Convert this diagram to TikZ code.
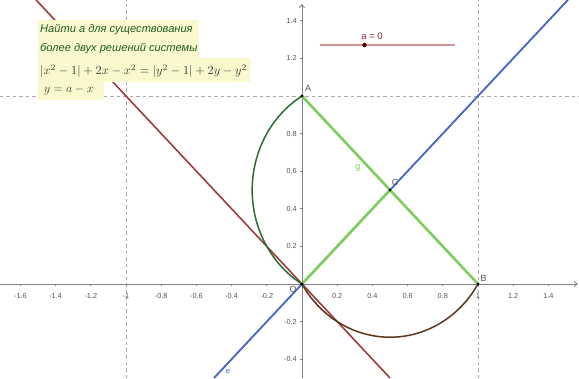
\documentclass[tikz,border=0pt]{standalone}
\usepackage{fontspec}
\setsansfont{Liberation Sans}
\usetikzlibrary{arrows.meta}
\definecolor{gridgray}{RGB}{170,170,170}
\definecolor{axisgray}{RGB}{130,130,130}
\definecolor{labelgray}{RGB}{85,85,85}
\definecolor{lineblue}{RGB}{70,100,200}
\definecolor{linered}{RGB}{160,60,60}
\definecolor{seggreen}{RGB}{125,205,95}
\definecolor{arcgreen}{RGB}{40,110,50}
\definecolor{arcbrown}{RGB}{90,55,35}
\definecolor{sliderpink}{RGB}{205,150,150}
\definecolor{sliderdot}{RGB}{90,0,0}
\definecolor{sliderlabel}{RGB}{140,40,50}
\definecolor{textgreen}{RGB}{30,95,30}
\definecolor{boxyellow}{RGB}{250,249,205}
\definecolor{mathgray}{RGB}{60,60,60}
\tikzset{
  gridline/.style={gridgray, dashed, dash pattern=on 3.5pt off 3pt, line width=0.9pt},
  axisline/.style={axisgray, line width=0.8pt},
  axisarrow/.style={axisline, -{To[length=4pt,width=6pt]}},
  xticklab/.style={font=\sffamily\fontsize{7.3}{8}\selectfont, text=labelgray, inner sep=0pt},
  yticklab/.style={font=\sffamily\fontsize{7.3}{8}\selectfont, text=labelgray, inner sep=0pt, anchor=east},
  ptlabel/.style={font=\sffamily\fontsize{9}{10}\selectfont, text=labelgray, inner sep=0pt},
  pointdot/.style={circle, fill=black, inner sep=0pt, minimum size=3.2pt},
  bluel/.style={lineblue, line width=1.8pt},
  redl/.style={linered, line width=1.6pt},
  greenseg/.style={seggreen, line width=2.6pt},
  greenarc/.style={arcgreen, line width=1.5pt},
  brownarc/.style={arcbrown, line width=1.5pt},
  taskbox/.style={fill=boxyellow},
  tasktext/.style={font=\sffamily\itshape\fontsize{11.1}{12}\selectfont, text=textgreen, inner sep=0pt, anchor=west},
  mathtext/.style={text=mathgray, inner sep=0pt, anchor=west}
}
\begin{document}
\begin{tikzpicture}[x=1pt,y=1pt]
\useasboundingbox[fill=white] (0,0) rectangle (579,378);
\begin{scope}[shift={(302pt,94pt)},x=176pt,y=188pt]
  % dashed grid lines
  \draw[gridline] (-1,-0.5) -- (-1,1.511);
  \draw[gridline] (1,-0.5) -- (1,1.511);
  \draw[gridline] (-1.716,1) -- (1.574,1);
  % axes
  \draw[axisarrow] (-1.716,0) -- (1.568,0);
  \draw[axisarrow] (0,-0.5) -- (0,1.49);
  \foreach \t in {-1.6,-1.4,-1.2,-1,-0.8,-0.6,-0.4,-0.2,0.2,0.4,0.6,0.8,1,1.2,1.4}
    \draw[axisline] (\t,0) -- ++(0,-2.5pt);
  \foreach \t in {-0.4,-0.2,0.2,0.4,0.6,0.8,1,1.2,1.4}
    \draw[axisline] (0,\t) -- ++(-2.5pt,0);
  \foreach \t/\l/\n in {-1.6/-1.6/xa,-1.4/-1.4/xb,-1.2/-1.2/xc,-1/-1/xd,-0.8/-0.8/xe,-0.6/-0.6/xf,-0.4/-0.4/xg,-0.2/-0.2/xh,0.2/0.2/xi,0.4/0.4/xj,0.6/0.6/xk,0.8/0.8/xl,1/1/xm,1.2/1.2/xn,1.4/1.4/xo}
    \node[xticklab] (\n) at ([yshift=-12pt]\t,0) {\l};
  \foreach \t/\l/\n in {-0.4/-0.4/ya,-0.2/-0.2/yb,0.2/0.2/yc,0.4/0.4/yd,0.6/0.6/ye,0.8/0.8/yf,1.2/1.2/yg,1.4/1.4/yh}
    \node[yticklab] (\n) at ([xshift=-5pt]0,\t) {\l};
  % named points
  \coordinate (O) at (0,0);
  \coordinate (A) at (0,1);
  \coordinate (B) at (1,0);
  \coordinate (C) at (0.5,0.5);
  \coordinate (blueS) at (-0.5,-0.5);
  \coordinate (blueE) at (1.511,1.511);
  \coordinate (redS) at (-1.511,1.511);
  \coordinate (redE) at (0.5,-0.5);
  % lines y=x and y=a-x
  \draw[bluel] (blueS) -- (blueE);
  \draw[redl] (redS) -- (redE);
  % arcs
  \draw[greenarc] (A) arc[start angle=120.964, end angle=239.036, radius=0.58310];
  \draw[brownarc] (O) arc[start angle=210.964, end angle=329.036, radius=0.58310];
  % green segments
  \draw[greenseg] (A) -- (C);
  \draw[greenseg] (C) -- (B);
  \draw[greenseg] (O) -- (C);
  % points
  \node[pointdot] (pA) at (A) {};
  \node[pointdot] (pB) at (B) {};
  \node[pointdot] (pC) at (C) {};
  \node[pointdot] (pO) at (O) {};
  \node[ptlabel] (lA) at ([xshift=6pt,yshift=8pt]A) {A};
  \node[ptlabel] (lB) at ([xshift=5.5pt,yshift=6pt]B) {B};
  \node[ptlabel] (lC) at ([xshift=5pt,yshift=7.5pt]C) {C};
  \node[ptlabel] (lO) at ([xshift=-9pt,yshift=-5pt]O) {O};
  \node[font=\sffamily\fontsize{9}{10}\selectfont, text=seggreen, inner sep=0pt] (lg) at (0.318,0.617) {g};
  \node[font=\sffamily\fontsize{7.5}{8}\selectfont, text=lineblue, inner sep=0pt] (le) at (-0.42,-0.463) {e};
  % slider
  \coordinate (s1) at (0.102,1.271);
  \coordinate (s2) at (0.869,1.271);
  \draw[sliderpink, line width=1.2pt] (s1) -- (s2);
  \node[circle, fill=sliderdot, inner sep=0pt, minimum size=4.5pt] (sa) at (0.355,1.271) {};
  \node[font=\sffamily\fontsize{9.5}{10}\selectfont, text=sliderlabel, inner sep=0pt] (la) at (0.398,1.319) {a = 0};
\end{scope}
% task text boxes
\fill[taskbox] (38,358) rectangle (199,320);
\fill[taskbox] (38,320) rectangle (250,296);
\fill[taskbox] (38,296) rectangle (104,278);
\node[tasktext] (t1) at (40,348) {Найти a для существования};
\node[tasktext] (t2) at (40,329) {более двух решений системы};
\node[mathtext] (t3) at (40,307) {\resizebox{207pt}{!}{$|x^2-1|+2x-x^2=|y^2-1|+2y-y^2$}};
\node[mathtext] (t4) at (44,288) {\fontsize{12.5}{14}\selectfont$y=a-x$};
\end{tikzpicture}
\end{document}
